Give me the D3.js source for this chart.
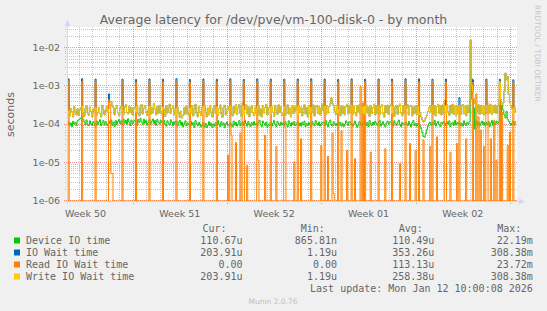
<!DOCTYPE html>
<html><head><meta charset="utf-8">
<script src="https://cdn.jsdelivr.net/npm/d3@7"></script>
<style>body{margin:0;background:#F0F0F0}svg{display:block}</style>
</head><body><svg id="c" width="547" height="311"></svg>
<script>
// ---------------- data ----------------
const chartTitle = "Average latency for /dev/pve/vm-100-disk-0 - by month";
const yAxisTitle = "seconds";
const sideText = "RRDTOOL / TOBI OETIKER";
const watermark = "Munin 2.0.76";
const lastUpdate = "Last update: Mon Jan 12 10:00:08 2026";
// one consolidated sample every 2 hours (value covers the 2 h before its timestamp), values in microseconds
const firstSample = Date.UTC(2025, 11, 10, 5, 0);
const stepHours = 2;
const viewStart = Date.UTC(2025, 11, 10, 3, 7);
const viewEnd = Date.UTC(2026, 0, 12, 12, 30);

const deviceIO = [
95,110,88,104,84,115,97,108,90,118,125,132,
140,152,130,112,96,125,92,88,118,100,90,112,
102,86,118,94,110,126,88,105,120,92,112,98,
88,116,100,124,90,110,84,120,96,114,128,100,
118,92,130,102,122,96,134,110,88,124,100,116,
122,100,90,128,106,138,112,94,130,102,120,92,
108,126,94,114,132,100,120,90,128,110,98,122,
106,90,122,98,86,118,104,92,126,108,88,112,
98,116,86,106,122,92,110,82,100,118,88,104,
96,84,114,92,106,80,120,100,88,108,94,84,
92,108,82,100,78,90,112,88,104,80,96,86,
106,88,120,96,84,112,92,104,78,98,110,88,
86,104,96,82,116,92,108,86,98,120,88,102,
110,90,122,100,86,114,96,84,106,92,112,94,
100,86,108,122,94,84,116,102,90,110,80,96,
90,108,86,102,120,96,84,114,100,88,108,94,
104,88,112,96,82,118,100,86,106,94,114,90,
96,110,88,104,86,108,94,116,84,100,90,106,
94,82,114,100,88,120,102,90,110,86,96,108,
106,90,120,96,84,108,124,94,86,112,100,88,
100,116,92,108,86,102,84,96,118,106,90,112,
108,94,86,102,116,96,80,92,112,100,88,106,
96,114,90,106,84,120,100,88,108,94,116,102,
90,106,120,86,100,112,94,82,102,116,96,108,
112,96,86,118,102,90,108,124,94,84,106,100,
94,108,100,88,114,96,82,106,120,90,102,86,
100,110,88,74,58,46,44,54,70,86,100,108,
90,108,96,120,86,102,114,94,84,108,100,112,
104,88,112,96,118,84,100,108,90,122,94,106,
96,110,88,102,86,118,100,90,108,96,112,420,
1500,620,260,72,118,92,110,86,102,116,94,108,
88,106,96,114,84,102,120,90,108,96,116,100,
110,450,160,300,230,170,140,210,130,115,100,92,
104,116,92,111
];
const ioWait = [
180,1480,160,250,205,150,275,200,170,245,165,230,
265,1500,180,155,250,290,190,165,270,205,150,240,
210,1460,165,195,265,185,150,300,230,170,215,275,
195,600,360,380,290,260,170,250,295,190,160,255,
290,1450,175,270,310,195,180,285,200,260,170,245,
260,1420,285,185,160,270,315,180,250,295,200,165,
225,1480,175,260,190,330,240,170,280,185,300,205,
180,1460,240,155,295,190,260,320,185,250,290,170,
240,1500,270,190,145,210,140,165,260,175,285,200,
170,1440,190,290,160,245,320,185,150,275,200,165,
270,1470,305,195,150,255,170,290,195,150,250,295,
185,1450,165,250,305,180,145,265,300,170,240,280,
225,1490,180,160,280,190,310,175,260,315,185,155,
295,1430,230,310,180,275,150,240,290,195,165,270,
180,1480,300,165,240,150,290,190,265,315,170,250,
270,1460,285,200,155,300,220,175,310,195,275,165,
190,1450,165,265,310,180,255,150,290,185,280,215,
275,1470,300,195,270,160,245,310,180,260,150,295,
180,1490,200,305,160,270,295,185,280,170,250,320,
215,1460,170,290,190,275,330,470,340,300,210,175,
300,1440,240,160,295,185,280,170,275,320,180,285,
200,1480,175,285,190,160,295,205,310,180,275,190,
285,1450,305,190,270,155,300,185,260,320,170,290,
185,1470,170,275,310,180,150,295,200,305,175,280,
310,1460,285,155,260,300,175,280,325,190,160,290,
180,1490,255,310,170,280,300,160,270,185,295,175,
280,1480,190,150,125,110,120,140,165,210,260,295,
195,1450,175,295,160,280,320,185,290,170,305,200,
295,1470,310,205,165,300,190,320,175,285,160,300,
185,480,170,290,315,180,285,160,300,200,305,15500,
1000,1400,450,330,300,195,310,175,295,185,290,170,
285,1460,180,295,190,320,175,290,200,305,185,290,
310,1450,420,300,350,700,2100,1400,1700,600,350,290,
240,1400,270,204
];
const readWait = [
0,1250,0,0,0,0,0,0,0,0,0,0,
0,1280,0,0,0,0,0,0,0,0,0,0,
0,1230,0,0,0,0,0,0,0,0,0,0,
0,420,320,5,5,0,0,0,0,0,0,0,
0,1250,0,0,0,0,0,0,0,0,0,0,
0,1220,0,0,0,0,0,0,0,0,0,0,
0,1260,0,0,0,0,0,0,0,0,0,0,
0,1240,0,0,0,0,0,0,0,0,0,0,
0,1280,0,0,0,0,0,0,0,0,0,0,
0,1230,0,0,0,0,0,0,0,0,0,0,
0,1250,0,0,0,0,0,0,0,0,0,0,
0,1240,0,0,0,0,0,0,0,0,0,15,
0,1240,50,0,0,0,32,0,0,0,56,0,
350,1260,0,0,8,0,0,0,0,0,0,0,
0,1230,11,0,0,0,0,0,50,0,0,0,
0,1250,0,0,0,0,25,0,0,0,0,0,
0,1270,80,0,0,0,0,0,0,0,10,0,
0,1240,0,0,40,0,0,0,0,0,0,0,
0,1260,0,0,0,0,0,0,0,0,27,0,
0,1250,0,0,14,0,0,0,56,1.5,0,0,
0,1230,0,0,65,0,0,0,0,20,0,0,
0,1260,0,0,12,0,0,0,0,930,0,350,
0,1250,0,0,0,0,18,0,0,0,0,0,
0,1240,0,0,0,0,0,22,0,0,0,0,
0,1270,0,0,0,0,0,0,9,0,0,0,
0,1250,0,0,0,30,0,0,0,0,20,0,
0,1230,0,0,0,37,0,0,0,0,0,25,
0,1260,0,0,0,45,0,0,0,0,0,0,
410,1250,0,0,0,18,0,0,0,0,0,30,
0,300,0,0,0,0,0,40,0,0,0,0,
0,1200,0,0,600,0,150,0,68,0,0,25,
0,1240,350,0,0,40,0,0,120,0,11,0,
0,1200,0,200,0,0,0,0,27,0,60,0,
0,1200,0,0
];
const writeWait = [
180,215,160,250,205,150,275,200,170,245,165,230,
265,280,180,155,250,290,190,165,270,205,150,240,
210,260,165,195,265,185,150,300,230,170,215,275,
195,240,360,380,290,260,170,250,295,190,160,255,
290,220,175,270,310,195,180,285,200,260,170,245,
260,200,285,185,160,270,315,180,250,295,200,165,
225,290,175,260,190,330,240,170,280,185,300,205,
180,265,240,155,295,190,260,320,185,250,290,170,
240,160,270,190,145,210,140,165,260,175,285,200,
170,255,190,290,160,245,320,185,150,275,200,165,
270,185,305,195,150,255,170,290,195,150,250,295,
185,270,165,250,305,180,145,265,300,170,240,280,
225,290,180,160,280,190,310,175,260,315,185,155,
295,170,230,310,180,275,150,240,290,195,165,270,
180,255,300,165,240,150,290,190,265,315,170,250,
270,185,285,200,155,300,220,175,310,195,275,165,
190,285,165,265,310,180,255,150,290,185,280,215,
275,170,300,195,270,160,245,310,180,260,150,295,
180,265,200,305,160,270,295,185,280,170,250,320,
215,285,170,290,190,275,330,470,340,300,210,175,
300,190,240,160,295,185,280,170,275,320,180,285,
200,300,175,285,190,160,295,205,310,180,275,190,
285,175,305,190,270,155,300,185,260,320,170,290,
185,290,170,275,310,180,150,295,200,305,175,280,
310,185,285,155,260,300,175,280,325,190,160,290,
180,290,255,310,170,280,300,160,270,185,295,175,
280,170,190,150,125,110,120,140,165,210,260,295,
195,300,175,295,160,280,320,185,290,170,305,200,
295,180,310,205,165,300,190,320,175,285,160,300,
185,295,170,290,315,180,285,160,300,200,305,15500,
1000,700,450,330,300,195,310,175,295,185,290,170,
285,300,180,295,190,320,175,290,200,305,185,290,
310,1250,420,300,350,700,2100,1400,1700,600,350,290,
240,185,270,204
];
const yTickValues = [1e-6, 1e-5, 1e-4, 1e-3, 1e-2];
const yTickLabels = ["1e-06", "1e-05", "1e-04", "1e-03", "1e-02"];
const seriesNames = ["Device IO time", "IO Wait time", "Read IO Wait time", "Write IO Wait time"];
const seriesColors = ["#00CC00", "#0066B3", "#FF8000", "#FFCC00"];
const curValues = ["110.67u", "203.91u", "0.00", "203.91u"];
const minValues = ["865.81n", "1.19u", "0.00", "1.19u"];
const avgValues = ["110.49u", "353.26u", "113.13u", "258.38u"];
const maxValues = ["22.19m", "308.38m", "23.72m", "308.38m"];
const statHeaders = ["Cur:", "Min:", "Avg:", "Max:"];

// ---------------- drawing ----------------
const W = 547, H = 311, X0 = 67, X1 = 517, Y0 = 27, Y1 = 201;
const decadePx = 38.2, y1e6 = 200;
const svg = d3.select("#c");
const FONT = "DejaVu Sans, Verdana, sans-serif";
const MONO = "DejaVu Sans Mono, monospace";

const yScale = d3.scaleLog()
  .domain([Math.pow(10, -6 - (Y1 - y1e6) / decadePx), Math.pow(10, -6 + (y1e6 - Y0) / decadePx)])
  .range([Y1, Y0]).clamp(true);
const xScale = d3.scaleUtc().domain([new Date(viewStart), new Date(viewEnd)]).range([X0, X1]);
const tOf = i => new Date(firstSample + i * stepHours * 3600e3);

svg.append("rect").attr("width", W).attr("height", H).attr("fill", "#F0F0F0");
svg.append("rect").attr("x", X0).attr("y", Y0).attr("width", X1 - X0).attr("height", Y1 - Y0).attr("fill", "#FFFFFF");

const minorCol = "rgba(150,150,150,0.55)", majorCol = "rgba(222,79,79,0.6)";
const grid = svg.append("g").attr("shape-rendering", "crispEdges");
const [dLo, dHi] = yScale.domain();
for (let k = -6; k <= -1; k++) {
  for (let m = 1; m <= 9; m++) {
    const v = m * Math.pow(10, k);
    if (v < dLo * 0.999 || v > dHi) continue;
    const y = Math.round(yScale(v)) + 0.5;
    const major = m === 1;
    grid.append("line").attr("x1", major ? X0 - 3 : X0 - 2).attr("x2", X1).attr("y1", y).attr("y2", y)
      .attr("stroke", major ? majorCol : minorCol).attr("stroke-dasharray", "1,1");
  }
}
const days = d3.utcDay.range(new Date(viewStart), new Date(viewEnd));
days.forEach(d => {
  const x = Math.round(xScale(d)) + 0.5;
  const major = d.getUTCDay() === 1;
  grid.append("line").attr("x1", x).attr("x2", x).attr("y1", Y0).attr("y2", major ? Y1 + 3 : Y1 + 2)
    .attr("stroke", major ? majorCol : minorCol).attr("stroke-dasharray", "1,1");
});

// series: each value holds for the interval ending at its timestamp
svg.append("clipPath").attr("id", "clip").append("rect").attr("x", X0).attr("y", Y0 - 1).attr("width", X1 - X0).attr("height", Y1 - Y0 + 1);
const line = d3.line().curve(d3.curveStepBefore)
  .x((v, i) => xScale(tOf(i))).y(v => yScale(Math.max(v * 1e-6, 1e-12)));
const seriesData = [deviceIO, ioWait, readWait, writeWait];
const plot = svg.append("g").attr("clip-path", "url(#clip)");
seriesData.forEach((arr, s) => {
  plot.append("path").attr("d", line(arr)).attr("fill", "none")
    .attr("stroke", seriesColors[s]).attr("stroke-width", 1);
});

// axes
const axisCol = "#CFD6F8";
svg.append("line").attr("x1", X0 - 3).attr("x2", X1 + 4).attr("y1", Y1 + 0.5).attr("y2", Y1 + 0.5).attr("stroke", axisCol);
svg.append("line").attr("x1", X0 + 0.5).attr("x2", X0 + 0.5).attr("y1", Y1 + 3).attr("y2", Y0 - 4).attr("stroke", axisCol);
svg.append("path").attr("d", `M${X1 + 2},${Y1 - 2.5}L${X1 + 8},${Y1 + 0.5}L${X1 + 2},${Y1 + 3.5}Z`).attr("fill", axisCol);
svg.append("path").attr("d", `M${X0 - 2.5},${Y0 - 1}L${X0 + 0.5},${Y0 - 7}L${X0 + 3.5},${Y0 - 1}Z`).attr("fill", axisCol);

// texts
const txt = "#666666";
svg.append("text").attr("x", W / 2).attr("y", 24).attr("text-anchor", "middle")
  .attr("font-family", FONT).attr("font-size", 12.5).attr("fill", txt).text(chartTitle);
yTickValues.forEach((v, i) => {
  svg.append("text").attr("x", 60).attr("y", yScale(v) + 3.8).attr("text-anchor", "end")
    .attr("font-family", FONT).attr("font-size", 9.5).attr("fill", txt).text(yTickLabels[i]);
});
const weekFmt = d3.utcFormat("Week %V");
d3.utcMonday.range(d3.utcMonday.floor(new Date(viewStart)), new Date(viewEnd)).forEach(m => {
  const c = new Date(+m + 3.5 * 864e5);
  const x = xScale(c);
  if (x < X0 || x > X1) return;
  svg.append("text").attr("x", x).attr("y", 217).attr("text-anchor", "middle")
    .attr("font-family", FONT).attr("font-size", 9.5).attr("fill", txt).text(weekFmt(c));
});
svg.append("text").attr("transform", "translate(14,114.5) rotate(-90)").attr("text-anchor", "middle")
  .attr("font-family", FONT).attr("font-size", 11).attr("fill", txt).text(yAxisTitle);
svg.append("text").attr("transform", "translate(535,5) rotate(90)").attr("text-anchor", "start")
  .attr("font-family", FONT).attr("font-size", 7.5).attr("fill", "#c6c6c6").text(sideText);

// legend
const headX = [202.4, 300.8, 398.8, 497.2];
const valX = [242.5, 337, 434.4, 532.8];
const rowY = [244, 256, 268, 280];
statHeaders.forEach((h, i) => {
  svg.append("text").attr("x", headX[i]).attr("y", 232).attr("font-family", MONO).attr("font-size", 10)
    .attr("fill", txt).text(h);
});
const cols = [curValues, minValues, avgValues, maxValues];
seriesNames.forEach((n, r) => {
  svg.append("rect").attr("x", 14).attr("y", rowY[r] - 6.5).attr("width", 6).attr("height", 6).attr("fill", seriesColors[r]);
  svg.append("text").attr("x", 26).attr("y", rowY[r]).attr("font-family", MONO).attr("font-size", 10)
    .attr("fill", txt).text(n);
  cols.forEach((c, k) => {
    svg.append("text").attr("x", valX[k]).attr("y", rowY[r]).attr("text-anchor", "end").attr("font-family", MONO)
      .attr("font-size", 10).attr("fill", txt).text(c[r]);
  });
});
svg.append("text").attr("x", 532.8).attr("y", 292).attr("text-anchor", "end").attr("font-family", MONO)
  .attr("font-size", 10).attr("fill", txt).text(lastUpdate);
svg.append("text").attr("x", 273).attr("y", 303.5).attr("text-anchor", "middle").attr("font-family", FONT)
  .attr("font-size", 7.5).attr("fill", "#c0c0c0").text(watermark);
</script>
</body></html>
